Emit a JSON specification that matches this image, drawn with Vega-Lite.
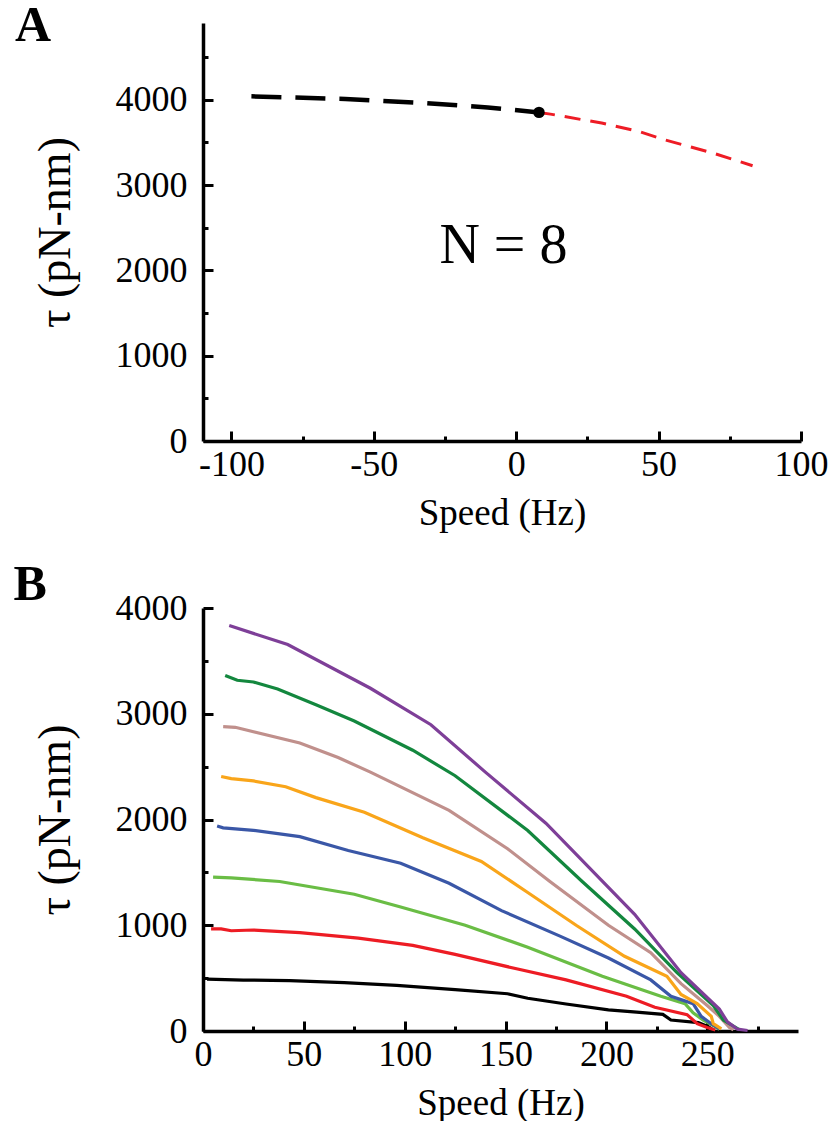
{
  "$schema": "https://vega.github.io/schema/vega-lite/v6.json",
  "background": "white",
  "padding": {"left": 13, "top": 0, "right": 0, "bottom": 0},
  "spacing": 28,
  "config": {
    "font": "Liberation Serif",
    "view": {"stroke": null},
    "axis": {
      "grid": false,
      "domainColor": "#000",
      "domainWidth": 3.5,
      "tickColor": "#000",
      "tickWidth": 3,
      "labelFont": "Liberation Serif",
      "labelFontSize": 36,
      "labelColor": "#000",
      "labelFlush": false,
      "labelOverlap": false,
      "titleFont": "Liberation Serif",
      "titleFontSize": 37,
      "titleFontWeight": "normal",
      "titleColor": "#000"
    },
    "axisY": {"titleFontSize": 46}
  },
  "vconcat": [
    {
      "width": 598,
      "height": 418,
      "data": {"values": [
        {"seg": "fit", "speed": -93, "tau": 4040},
        {"seg": "fit", "speed": -60, "tau": 4010},
        {"seg": "fit", "speed": -32, "tau": 3961},
        {"seg": "fit", "speed": -10, "tau": 3910},
        {"seg": "fit", "speed": 8, "tau": 3852},
        {"seg": "ext", "speed": 8, "tau": 3852},
        {"seg": "ext", "speed": 12, "tau": 3832},
        {"seg": "ext", "speed": 30, "tau": 3727},
        {"seg": "ext", "speed": 43, "tau": 3629},
        {"seg": "ext", "speed": 52, "tau": 3532},
        {"seg": "ext", "speed": 69, "tau": 3376},
        {"seg": "ext", "speed": 83, "tau": 3227}
      ]},
      "encoding": {
        "x": {"field": "speed", "type": "quantitative",
          "scale": {"domain": [-110, 100], "nice": false, "zero": false},
          "axis": {"title": "Speed (Hz)", "values": [-100, -75, -50, -25, 0, 25, 50, 75, 100],
            "labelExpr": "datum.value % 50 === 0 ? '' + datum.value : ''",
            "tickSize": {"condition": {"test": "datum.value % 50 === 0", "value": -10}, "value": -5},
            "labelPadding": 16, "titlePadding": 8}},
        "y": {"field": "tau", "type": "quantitative",
          "scale": {"domain": [0, 4900], "nice": false},
          "axis": {"title": "τ (pN-nm)", "values": [0, 500, 1000, 1500, 2000, 2500, 3000, 3500, 4000, 4500],
            "labelExpr": "datum.value % 1000 === 0 ? '' + datum.value : ''",
            "tickSize": {"condition": {"test": "datum.value % 1000 === 0", "value": -10}, "value": -5},
            "labelPadding": 26, "titlePadding": 36}}
      },
      "layer": [
        {"transform": [{"filter": "datum.seg === 'fit'"}],
         "mark": {"type": "line", "color": "#000", "strokeWidth": 4.5, "strokeDash": [30, 14]}},
        {"transform": [{"filter": "datum.seg === 'ext'"}],
         "mark": {"type": "line", "color": "#ee1c25", "strokeWidth": 3, "strokeDash": [16, 10]}},
        {"transform": [{"filter": "datum.seg === 'fit' && datum.speed === 8"}],
         "mark": {"type": "point", "filled": true, "color": "#000", "size": 130, "opacity": 1}},
        {"data": {"values": [{"label": "N = 8", "speed": -4.5, "tau": 2088}]},
         "mark": {"type": "text", "fontSize": 56, "font": "Liberation Serif", "color": "#000", "align": "center", "baseline": "alphabetic"},
         "encoding": {"text": {"field": "label"}}},
        {"data": {"values": [{"label": "A", "speed": -176, "tau": 4690}]},
         "mark": {"type": "text", "fontSize": 50, "fontWeight": "bold", "font": "Liberation Serif", "color": "#000", "align": "left", "baseline": "alphabetic", "clip": false},
         "encoding": {"text": {"field": "label"}}}
      ]
    },
    {
      "width": 595,
      "height": 423,
      "encoding": {
        "x": {"field": "speed", "type": "quantitative",
          "scale": {"domain": [0, 295], "nice": false},
          "axis": {"title": "Speed (Hz)", "values": [0, 25, 50, 75, 100, 125, 150, 175, 200, 225, 250, 275],
            "labelExpr": "datum.value % 50 === 0 ? '' + datum.value : ''",
            "tickSize": {"condition": {"test": "datum.value % 50 === 0", "value": -10}, "value": -5},
            "labelPadding": 16, "titlePadding": 8}},
        "y": {"field": "tau", "type": "quantitative",
          "scale": {"domain": [0, 4000], "nice": false},
          "axis": {"title": "τ (pN-nm)", "values": [0, 500, 1000, 1500, 2000, 2500, 3000, 3500, 4000],
            "labelExpr": "datum.value % 1000 === 0 ? '' + datum.value : ''",
            "tickSize": {"condition": {"test": "datum.value % 1000 === 0", "value": -10}, "value": -5},
            "labelPadding": 26, "titlePadding": 36}}
      },
      "layer": [
        {
          "data": {"values": [
            {"c": "c1", "speed": 2, "tau": 490}, {"c": "c1", "speed": 20, "tau": 482}, {"c": "c1", "speed": 43, "tau": 476}, {"c": "c1", "speed": 70, "tau": 458}, {"c": "c1", "speed": 96, "tau": 431}, {"c": "c1", "speed": 125, "tau": 392}, {"c": "c1", "speed": 151, "tau": 352}, {"c": "c1", "speed": 161, "tau": 310}, {"c": "c1", "speed": 180, "tau": 255}, {"c": "c1", "speed": 201, "tau": 200}, {"c": "c1", "speed": 215, "tau": 178}, {"c": "c1", "speed": 228, "tau": 157}, {"c": "c1", "speed": 232, "tau": 104}, {"c": "c1", "speed": 245.6, "tau": 79}, {"c": "c1", "speed": 250.5, "tau": 42}, {"c": "c1", "speed": 253, "tau": 8},
            {"c": "c2", "speed": 4, "tau": 965}, {"c": "c2", "speed": 9, "tau": 965}, {"c": "c2", "speed": 14, "tau": 948}, {"c": "c2", "speed": 25, "tau": 955}, {"c": "c2", "speed": 48, "tau": 931}, {"c": "c2", "speed": 77, "tau": 879}, {"c": "c2", "speed": 104, "tau": 810}, {"c": "c2", "speed": 125, "tau": 724}, {"c": "c2", "speed": 156, "tau": 586}, {"c": "c2", "speed": 180, "tau": 483}, {"c": "c2", "speed": 210, "tau": 328}, {"c": "c2", "speed": 224, "tau": 224}, {"c": "c2", "speed": 240, "tau": 155}, {"c": "c2", "speed": 245, "tau": 69}, {"c": "c2", "speed": 250, "tau": 34}, {"c": "c2", "speed": 254, "tau": 10},
            {"c": "c3", "speed": 5, "tau": 1455}, {"c": "c3", "speed": 14, "tau": 1448}, {"c": "c3", "speed": 38, "tau": 1414}, {"c": "c3", "speed": 75, "tau": 1293}, {"c": "c3", "speed": 98, "tau": 1172}, {"c": "c3", "speed": 130, "tau": 1000}, {"c": "c3", "speed": 161, "tau": 793}, {"c": "c3", "speed": 198, "tau": 517}, {"c": "c3", "speed": 227, "tau": 328}, {"c": "c3", "speed": 239, "tau": 259}, {"c": "c3", "speed": 243, "tau": 172}, {"c": "c3", "speed": 248, "tau": 103}, {"c": "c3", "speed": 253, "tau": 52}, {"c": "c3", "speed": 256, "tau": 15},
            {"c": "c4", "speed": 7, "tau": 1938}, {"c": "c4", "speed": 10, "tau": 1921}, {"c": "c4", "speed": 25, "tau": 1897}, {"c": "c4", "speed": 48, "tau": 1838}, {"c": "c4", "speed": 72, "tau": 1707}, {"c": "c4", "speed": 98, "tau": 1586}, {"c": "c4", "speed": 122, "tau": 1397}, {"c": "c4", "speed": 148, "tau": 1138}, {"c": "c4", "speed": 177, "tau": 897}, {"c": "c4", "speed": 201, "tau": 690}, {"c": "c4", "speed": 222, "tau": 483}, {"c": "c4", "speed": 232, "tau": 328}, {"c": "c4", "speed": 243, "tau": 259}, {"c": "c4", "speed": 247, "tau": 138}, {"c": "c4", "speed": 252, "tau": 69}, {"c": "c4", "speed": 256, "tau": 20},
            {"c": "c5", "speed": 9, "tau": 2407}, {"c": "c5", "speed": 14, "tau": 2386}, {"c": "c5", "speed": 25, "tau": 2365}, {"c": "c5", "speed": 41, "tau": 2310}, {"c": "c5", "speed": 56, "tau": 2207}, {"c": "c5", "speed": 80, "tau": 2069}, {"c": "c5", "speed": 109, "tau": 1827}, {"c": "c5", "speed": 138, "tau": 1603}, {"c": "c5", "speed": 161, "tau": 1310}, {"c": "c5", "speed": 185, "tau": 1000}, {"c": "c5", "speed": 209, "tau": 707}, {"c": "c5", "speed": 230, "tau": 517}, {"c": "c5", "speed": 237, "tau": 345}, {"c": "c5", "speed": 245, "tau": 259}, {"c": "c5", "speed": 252, "tau": 138}, {"c": "c5", "speed": 253, "tau": 69}, {"c": "c5", "speed": 257, "tau": 20},
            {"c": "c6", "speed": 10, "tau": 2879}, {"c": "c6", "speed": 16, "tau": 2872}, {"c": "c6", "speed": 48, "tau": 2724}, {"c": "c6", "speed": 67, "tau": 2586}, {"c": "c6", "speed": 83, "tau": 2448}, {"c": "c6", "speed": 122, "tau": 2086}, {"c": "c6", "speed": 151, "tau": 1724}, {"c": "c6", "speed": 172, "tau": 1414}, {"c": "c6", "speed": 201, "tau": 1000}, {"c": "c6", "speed": 222, "tau": 741}, {"c": "c6", "speed": 237, "tau": 448}, {"c": "c6", "speed": 250, "tau": 241}, {"c": "c6", "speed": 256, "tau": 138}, {"c": "c6", "speed": 261, "tau": 34}, {"c": "c6", "speed": 263, "tau": 10},
            {"c": "c7", "speed": 11, "tau": 3362}, {"c": "c7", "speed": 17, "tau": 3317}, {"c": "c7", "speed": 25, "tau": 3300}, {"c": "c7", "speed": 37, "tau": 3234}, {"c": "c7", "speed": 56, "tau": 3086}, {"c": "c7", "speed": 75, "tau": 2931}, {"c": "c7", "speed": 104, "tau": 2655}, {"c": "c7", "speed": 125, "tau": 2414}, {"c": "c7", "speed": 161, "tau": 1896}, {"c": "c7", "speed": 188, "tau": 1414}, {"c": "c7", "speed": 214, "tau": 965}, {"c": "c7", "speed": 235, "tau": 552}, {"c": "c7", "speed": 253, "tau": 241}, {"c": "c7", "speed": 258, "tau": 103}, {"c": "c7", "speed": 264, "tau": 34}, {"c": "c7", "speed": 266, "tau": 10},
            {"c": "c8", "speed": 13, "tau": 3834}, {"c": "c8", "speed": 42, "tau": 3655}, {"c": "c8", "speed": 83, "tau": 3241}, {"c": "c8", "speed": 113, "tau": 2896}, {"c": "c8", "speed": 140, "tau": 2448}, {"c": "c8", "speed": 170, "tau": 1965}, {"c": "c8", "speed": 214, "tau": 1103}, {"c": "c8", "speed": 237, "tau": 552}, {"c": "c8", "speed": 256, "tau": 207}, {"c": "c8", "speed": 260, "tau": 86}, {"c": "c8", "speed": 265, "tau": 17}, {"c": "c8", "speed": 270, "tau": 5}
          ]},
          "mark": {"type": "line", "strokeWidth": 3.2},
          "encoding": {
            "color": {"field": "c", "type": "nominal", "legend": null,
              "scale": {"domain": ["c1", "c2", "c3", "c4", "c5", "c6", "c7", "c8"],
                "range": ["#000000", "#ed1c24", "#6abd45", "#3a57a7", "#f9a51a", "#c0908c", "#13873e", "#7e3f98"]}}
          }
        },
        {"data": {"values": [{"label": "B", "speed": -94, "tau": 4076}]},
         "mark": {"type": "text", "fontSize": 50, "fontWeight": "bold", "font": "Liberation Serif", "color": "#000", "align": "left", "baseline": "alphabetic", "clip": false},
         "encoding": {"text": {"field": "label"}}}
      ]
    }
  ]
}
